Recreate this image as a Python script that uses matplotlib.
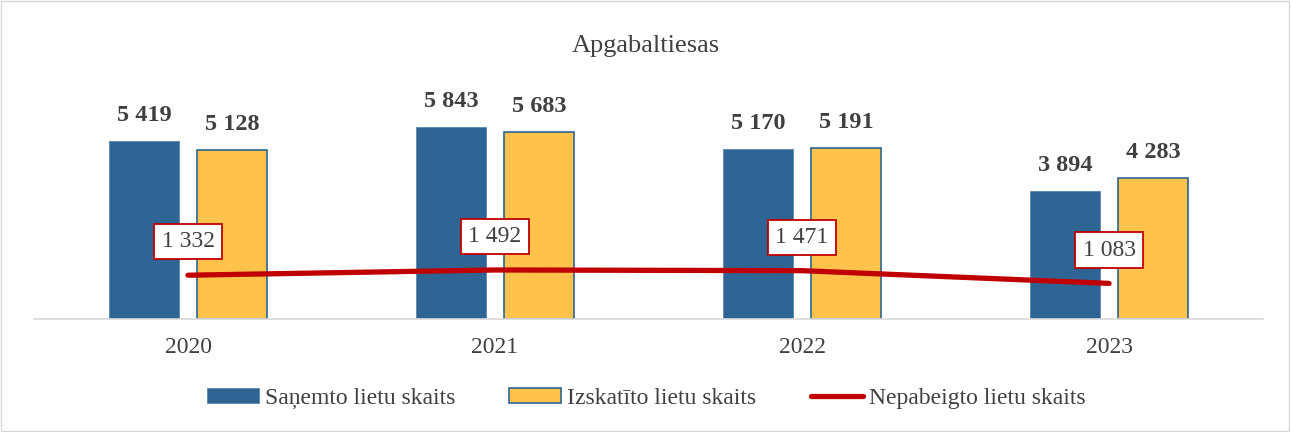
import numpy as np
import matplotlib.pyplot as plt
from matplotlib.patches import Rectangle

plt.rcParams['font.family'] = ['Liberation Serif', 'DejaVu Serif']

years = ['2020', '2021', '2022', '2023']
sanemto = [5419, 5843, 5170, 3894]
izskatito = [5128, 5683, 5191, 4283]
nepabeigto = [1332, 1492, 1471, 1083]

def fmt(v):
    return f'{v:,}'.replace(',', ' ')

blue = '#2E6594'
yellow = '#FFC34C'
red = '#C00000'
txt = '#404040'

fig = plt.figure(figsize=(12.92, 4.32), dpi=100)
ax = fig.add_axes([0.0267, 0.2616, 0.9505, 0.5324])
x = np.arange(len(years))
w = 0.228
off = 0.143

b1 = ax.bar(x - off, sanemto, w, color=blue, edgecolor='#5B86B0', linewidth=0.6, label='Saņemto lietu skaits')
b2 = ax.bar(x + off, izskatito, w, color=yellow, edgecolor=blue, linewidth=1.2, label='Izskatīto lietu skaits')
ln, = ax.plot(x, nepabeigto, color=red, linewidth=3.8, solid_capstyle='round', label='Nepabeigto lietu skaits')

for bars, vals in [(b1, sanemto), (b2, izskatito)]:
    for r, v in zip(bars, vals):
        ax.annotate(fmt(v), (r.get_x() + r.get_width() / 2, v), xytext=(0, 18.5),
                    textcoords='offset points', ha='center', va='center',
                    fontsize=17.5, fontweight='bold', color=txt)

for xi, v in zip(x, nepabeigto):
    ax.annotate(fmt(v), (xi, v), xytext=(0, 24), textcoords='offset points',
                ha='center', va='center', fontsize=17, color=txt,
                bbox=dict(boxstyle='square,pad=0.3', fc='white', ec=red, lw=1.3))

ax.set_xlim(-0.5, 3.5)
ax.set_ylim(0, 7000)
ax.set_xticks(x)
ax.set_xticklabels(years, fontsize=17, color=txt)
ax.tick_params(axis='x', length=0, pad=13)
ax.set_yticks([])
for s in ['top', 'right', 'left']:
    ax.spines[s].set_visible(False)
ax.spines['bottom'].set_color('#D9D9D9')
ax.spines['bottom'].set_linewidth(1.2)

fig.text(0.5, 0.893, 'Apgabaltiesas', ha='center', va='center', fontsize=19, color=txt)

fig.legend(handles=[b1, b2, ln], loc='center', bbox_to_anchor=(0.5, 0.078), ncol=3,
           frameon=False, fontsize=17, handlelength=2.2, handleheight=0.65,
           columnspacing=2.3, handletextpad=0.25, labelcolor=txt)

fig.patches.append(Rectangle((0.001, 0.002), 0.997, 0.995, transform=fig.transFigure,
                             fill=False, ec='#D9D9D9', lw=1))

fig.savefig('out.png', dpi=100)
